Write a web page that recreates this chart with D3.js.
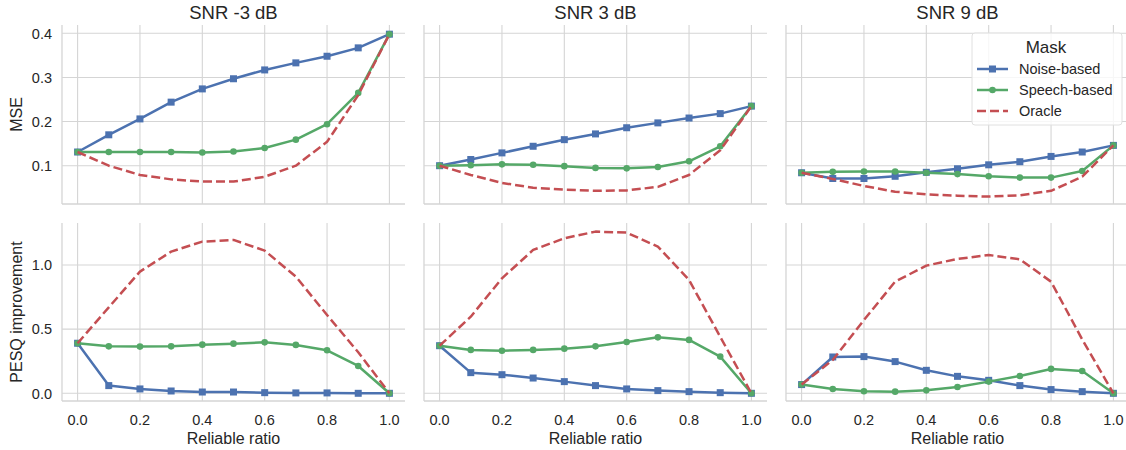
<!DOCTYPE html>
<html>
<head>
<meta charset="utf-8">
<script src="https://cdn.jsdelivr.net/npm/d3@7"></script>
<style>
  html, body { margin: 0; padding: 0; background: #fff; }
  svg text { font-family: "Liberation Sans", Arial, Helvetica, sans-serif; fill: #262626; }
</style>
</head>
<body>
<svg id="chart" width="1126" height="450"></svg>
<script>
// ---------------- data ----------------
const ratios = [0.0, 0.1, 0.2, 0.3, 0.4, 0.5, 0.6, 0.7, 0.8, 0.9, 1.0];
const panelTitles = ["SNR -3 dB", "SNR 3 dB", "SNR 9 dB"];
const seriesNames = ["Noise-based", "Speech-based", "Oracle"];
const legendTitle = "Mask";
const xTicks = [0.0, 0.2, 0.4, 0.6, 0.8, 1.0];
const mseTicks = [0.1, 0.2, 0.3, 0.4];
const pesqTicks = [0.0, 0.5, 1.0];
const rowLabels = ["MSE", "PESQ improvement"];
const xLabel = "Reliable ratio";

// MSE, per SNR
const mseNoiseM3  = [0.131, 0.170, 0.206, 0.244, 0.274, 0.297, 0.317, 0.333, 0.348, 0.367, 0.398];
const mseSpeechM3 = [0.131, 0.131, 0.131, 0.131, 0.130, 0.132, 0.140, 0.159, 0.194, 0.265, 0.398];
const mseOracleM3 = [0.131, 0.100, 0.079, 0.069, 0.064, 0.064, 0.075, 0.100, 0.154, 0.260, 0.398];
const mseNoise3   = [0.100, 0.114, 0.129, 0.144, 0.159, 0.172, 0.186, 0.197, 0.208, 0.218, 0.235];
const mseSpeech3  = [0.100, 0.101, 0.103, 0.102, 0.099, 0.095, 0.094, 0.097, 0.110, 0.144, 0.235];
const mseOracle3  = [0.100, 0.079, 0.061, 0.050, 0.046, 0.043, 0.044, 0.052, 0.079, 0.135, 0.235];
const mseNoise9   = [0.084, 0.071, 0.071, 0.076, 0.085, 0.093, 0.102, 0.109, 0.121, 0.131, 0.146];
const mseSpeech9  = [0.084, 0.086, 0.087, 0.087, 0.084, 0.081, 0.076, 0.073, 0.073, 0.088, 0.146];
const mseOracle9  = [0.084, 0.070, 0.054, 0.041, 0.035, 0.032, 0.030, 0.033, 0.043, 0.075, 0.146];

// PESQ improvement, per SNR
const pesqNoiseM3  = [0.390, 0.060, 0.034, 0.018, 0.010, 0.010, 0.005, 0.003, 0.003, 0.000, 0.000];
const pesqSpeechM3 = [0.390, 0.366, 0.364, 0.366, 0.379, 0.387, 0.397, 0.377, 0.335, 0.213, 0.000];
const pesqOracleM3 = [0.390, 0.670, 0.948, 1.104, 1.182, 1.195, 1.112, 0.909, 0.610, 0.320, 0.000];
const pesqNoise3   = [0.371, 0.161, 0.145, 0.119, 0.091, 0.060, 0.034, 0.021, 0.013, 0.005, 0.000];
const pesqSpeech3  = [0.371, 0.338, 0.332, 0.338, 0.348, 0.366, 0.400, 0.436, 0.416, 0.286, 0.000];
const pesqOracle3  = [0.371, 0.597, 0.896, 1.117, 1.208, 1.260, 1.252, 1.143, 0.883, 0.440, 0.000];
const pesqNoise9   = [0.068, 0.283, 0.286, 0.247, 0.179, 0.132, 0.101, 0.060, 0.029, 0.013, 0.000];
const pesqSpeech9  = [0.068, 0.034, 0.016, 0.013, 0.023, 0.049, 0.091, 0.135, 0.190, 0.174, 0.000];
const pesqOracle9  = [0.068, 0.260, 0.571, 0.870, 0.995, 1.047, 1.078, 1.044, 0.870, 0.420, 0.000];

const mseData = [
  [mseNoiseM3, mseSpeechM3, mseOracleM3],
  [mseNoise3, mseSpeech3, mseOracle3],
  [mseNoise9, mseSpeech9, mseOracle9]
];
const pesqData = [
  [pesqNoiseM3, pesqSpeechM3, pesqOracleM3],
  [pesqNoise3, pesqSpeech3, pesqOracle3],
  [pesqNoise9, pesqSpeech9, pesqOracle9]
];

// ---------------- layout & style ----------------
const colors = ["#4c72b0", "#55a868", "#c44e52"];
const gridColor = "#d5d5d5";
const cols = [[62, 405], [424, 767], [786, 1129]];
const rows = [
  { range: [204, 25], domain: [0.0132, 0.4188], ticks: mseTicks, fmt: d3.format(".1f"), data: mseData, label: rowLabels[0] },
  { range: [401, 223], domain: [-0.06, 1.327], ticks: pesqTicks, fmt: d3.format(".1f"), data: pesqData, label: rowLabels[1] }
];

const svg = d3.select("#chart");

rows.forEach((row, ri) => {
  const y = d3.scaleLinear().domain(row.domain).range(row.range);
  cols.forEach((c, ci) => {
    const x = d3.scaleLinear().domain([-0.05, 1.05]).range(c);
    const g = svg.append("g");

    // grid
    g.selectAll(".vg").data(xTicks).enter().append("line")
      .attr("x1", d => x(d)).attr("x2", d => x(d))
      .attr("y1", row.range[1]).attr("y2", row.range[0])
      .attr("stroke", gridColor).attr("stroke-width", 1.1);
    g.selectAll(".hg").data(row.ticks).enter().append("line")
      .attr("x1", c[0]).attr("x2", c[1])
      .attr("y1", d => y(d)).attr("y2", d => y(d))
      .attr("stroke", gridColor).attr("stroke-width", 1.1);

    // spines (left and bottom)
    g.append("line").attr("x1", c[0]).attr("x2", c[0]).attr("y1", row.range[1]).attr("y2", row.range[0])
      .attr("stroke", gridColor).attr("stroke-width", 1.3);
    g.append("line").attr("x1", c[0]).attr("x2", c[1]).attr("y1", row.range[0]).attr("y2", row.range[0])
      .attr("stroke", gridColor).attr("stroke-width", 1.3);

    // y tick labels (first column only)
    if (ci === 0) {
      g.selectAll(".yt").data(row.ticks).enter().append("text")
        .attr("x", c[0] - 10).attr("y", d => y(d)).attr("dy", "0.36em")
        .attr("text-anchor", "end").style("font-size", "14.5px")
        .text(d => row.fmt(d));
      svg.append("text")
        .attr("transform", `translate(22,${(row.range[0] + row.range[1]) / 2}) rotate(-90)`)
        .attr("text-anchor", "middle").style("font-size", "16px")
        .text(row.label);
    }

    // x tick labels and label on bottom row
    if (ri === 1) {
      g.selectAll(".xt").data(xTicks).enter().append("text")
        .attr("x", d => x(d)).attr("y", 425)
        .attr("text-anchor", "middle").style("font-size", "14.5px")
        .text(d => d3.format(".1f")(d));
      g.append("text").attr("x", x(0.5)).attr("y", 444)
        .attr("text-anchor", "middle").style("font-size", "16px")
        .text(xLabel);
    }
    if (ri === 0) {
      g.append("text").attr("x", (c[0] + c[1]) / 2).attr("y", 19)
        .attr("text-anchor", "middle").style("font-size", "18.5px")
        .text(panelTitles[ci]);
    }

    // series
    const line = d3.line().x((d, i) => x(ratios[i])).y(d => y(d));
    row.data[ci].forEach((vals, si) => {
      g.append("path").datum(vals)
        .attr("d", line).attr("fill", "none")
        .attr("stroke", colors[si]).attr("stroke-width", 2.5)
        .attr("stroke-linejoin", "round")
        .attr("stroke-dasharray", si === 2 ? "9,4" : null);
      if (si === 0) {
        g.selectAll(null).data(vals).enter().append("rect")
          .attr("x", (d, i) => x(ratios[i]) - 3.5).attr("y", d => y(d) - 3.5)
          .attr("width", 7).attr("height", 7).attr("fill", colors[0]);
      } else if (si === 1) {
        g.selectAll(null).data(vals).enter().append("circle")
          .attr("cx", (d, i) => x(ratios[i])).attr("cy", d => y(d))
          .attr("r", 3.3).attr("fill", colors[1]);
      }
    });
  });
});

// legend
const lg = svg.append("g");
lg.append("rect").attr("x", 972).attr("y", 33).attr("width", 150).attr("height", 92)
  .attr("rx", 3).attr("fill", "#fff").attr("fill-opacity", 0.8)
  .attr("stroke", "#e0e0e0").attr("stroke-width", 1);
lg.append("text").attr("x", 1046).attr("y", 53).attr("text-anchor", "middle")
  .style("font-size", "17px").text(legendTitle);
seriesNames.forEach((name, i) => {
  const yy = 69 + i * 21;
  lg.append("line").attr("x1", 977).attr("x2", 1008).attr("y1", yy).attr("y2", yy)
    .attr("stroke", colors[i]).attr("stroke-width", 2.5)
    .attr("stroke-dasharray", i === 2 ? "9,4" : null);
  if (i === 0) lg.append("rect").attr("x", 989).attr("y", yy - 3.5).attr("width", 7).attr("height", 7).attr("fill", colors[0]);
  if (i === 1) lg.append("circle").attr("cx", 992.5).attr("cy", yy).attr("r", 3.3).attr("fill", colors[1]);
  lg.append("text").attr("x", 1019).attr("y", yy).attr("dy", "0.36em")
    .style("font-size", "14.5px").text(name);
});
</script>
</body>
</html>
